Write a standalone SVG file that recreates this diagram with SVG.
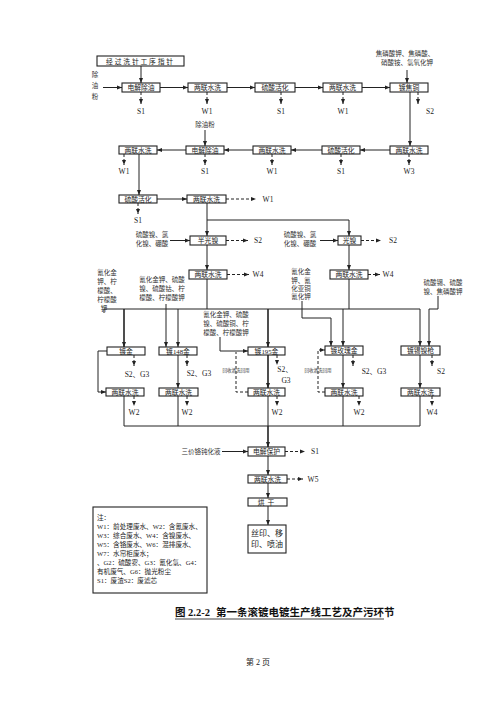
<svg xmlns="http://www.w3.org/2000/svg" width="500" height="707" viewBox="0 0 500 707">
<defs>
<marker id="a" viewBox="0 0 10 10" refX="10" refY="5" markerWidth="5" markerHeight="5" orient="auto" markerUnits="userSpaceOnUse"><path d="M0,1 L10,5 L0,9 z" fill="#222"/></marker>
</defs>
<style>
.b{fill:#fff;stroke:#222;stroke-width:1.1}
.t{font-family:"Liberation Serif","Noto Sans CJK SC",serif;font-size:6.8px;fill:#222;text-anchor:middle}
.c{font-family:"Liberation Serif","Noto Sans CJK SC",serif;font-size:6.5px;fill:#333;text-anchor:middle}
.s{font-family:"Liberation Serif","Noto Sans CJK SC",serif;font-size:7.5px;fill:#222;text-anchor:middle}
.g{font-family:"Liberation Serif","Noto Sans CJK SC",serif;font-size:6.6px;fill:#222}
.l{fill:none;stroke:#222;stroke-width:1}
.k{fill:none;stroke:#222;stroke-width:1.6}
.d{fill:none;stroke:#222;stroke-width:1;stroke-dasharray:3,2}
</style>
<rect width="500" height="707" fill="#fff"/>

<g id="connectors">
<path class="l" d="M141 66V83" marker-end="url(#a)"/>
<path class="l" d="M103 87.5H122" marker-end="url(#a)"/>
<path class="l" d="M160 87.5H188" marker-end="url(#a)"/>
<path class="l" d="M227 87.5H255" marker-end="url(#a)"/>
<path class="l" d="M295 87.5H323" marker-end="url(#a)"/>
<path class="l" d="M362 87.5H390" marker-end="url(#a)"/>
<path class="l" d="M407 70V83" marker-end="url(#a)"/>
<path class="d" d="M141 92V104" marker-end="url(#a)"/>
<path class="d" d="M207 92V104" marker-end="url(#a)"/>
<path class="d" d="M281 92V104" marker-end="url(#a)"/>
<path class="d" d="M343 92V104" marker-end="url(#a)"/>
<path class="d" d="M418 92V104" marker-end="url(#a)"/>
<path class="l" d="M410 92V146" marker-end="url(#a)"/>

<path class="l" d="M390 150H360" marker-end="url(#a)"/>
<path class="l" d="M322 150H291" marker-end="url(#a)"/>
<path class="l" d="M253 150H224" marker-end="url(#a)"/>
<path class="l" d="M186 150H157" marker-end="url(#a)"/>
<path class="l" d="M205 130V146" marker-end="url(#a)"/>
<path class="d" d="M124 154V165" marker-end="url(#a)"/>
<path class="d" d="M205 154V165" marker-end="url(#a)"/>
<path class="d" d="M272 154V165" marker-end="url(#a)"/>
<path class="d" d="M341 154V165" marker-end="url(#a)"/>
<path class="d" d="M409 154V165" marker-end="url(#a)"/>
<path class="l" d="M139 154V195" marker-end="url(#a)"/>

<path class="l" d="M157 199H187" marker-end="url(#a)"/>
<path class="d" d="M226 199H256" marker-end="url(#a)"/>
<path class="d" d="M138 203V214" marker-end="url(#a)"/>
<path class="l" d="M207 203V236" marker-end="url(#a)"/>
<path class="l" d="M207 220H349V236" marker-end="url(#a)"/>

<path class="l" d="M170 240.5H190" marker-end="url(#a)"/>
<path class="d" d="M226 240.5H248" marker-end="url(#a)"/>
<path class="l" d="M320 240.5H338" marker-end="url(#a)"/>
<path class="d" d="M361 240.5H381" marker-end="url(#a)"/>
<path class="l" d="M207 245V270" marker-end="url(#a)"/>
<path class="l" d="M349 245V270" marker-end="url(#a)"/>
<path class="d" d="M227 274.5H249" marker-end="url(#a)"/>
<path class="d" d="M368 274.5H380" marker-end="url(#a)"/>
<path class="l" d="M207 279V309"/>
<path class="l" d="M349 279V309"/>

<path class="l" d="M104 309H420V346" marker-end="url(#a)"/>
<path class="k" d="M124 309V347" marker-end="url(#a)"/>
<path class="l" d="M178 309V347" marker-end="url(#a)"/>
<path class="k" d="M268 309V347" marker-end="url(#a)"/>
<path class="l" d="M343 309V346" marker-end="url(#a)"/>
<path class="l" d="M104 313V309"/>
<path class="l" d="M166 304V347" marker-end="url(#a)"/>
<path class="l" d="M220 337V351H248" marker-end="url(#a)"/>
<path class="l" d="M302 301V318H331V346" marker-end="url(#a)"/>
<path class="l" d="M438 296V309H429V346" marker-end="url(#a)"/>

<path class="l" d="M107 351H98V392H106" marker-end="url(#a)"/>
<path class="l" d="M178 355V388" marker-end="url(#a)"/>
<path class="k" d="M268 355V388" marker-end="url(#a)"/>
<path class="l" d="M343 355V388" marker-end="url(#a)"/>
<path class="l" d="M420 355V388" marker-end="url(#a)"/>
<path class="d" d="M134 355V366" marker-end="url(#a)"/>
<path class="d" d="M187 355V366" marker-end="url(#a)"/>
<path class="d" d="M277 355V365" marker-end="url(#a)"/>
<path class="d" d="M353 355V366" marker-end="url(#a)"/>
<path class="d" d="M432 355V366" marker-end="url(#a)"/>
<path class="d" d="M248 392H236V352"/>
<path class="d" d="M325 392H318V350H325" marker-end="url(#a)"/>

<path class="d" d="M134 396V406" marker-end="url(#a)"/>
<path class="d" d="M187 396V406" marker-end="url(#a)"/>
<path class="d" d="M277 396V406" marker-end="url(#a)"/>
<path class="d" d="M359 396V406" marker-end="url(#a)"/>
<path class="d" d="M432 396V406" marker-end="url(#a)"/>
<path class="l" d="M124 396V426H420V396"/>
<path class="l" d="M178 396V426"/>
<path class="l" d="M268 396V426"/>
<path class="l" d="M343 396V426"/>
<path class="k" d="M268 426V447" marker-end="url(#a)"/>

<path class="l" d="M222 451.5H248" marker-end="url(#a)"/>
<path class="d" d="M285 451.5H305" marker-end="url(#a)"/>
<path class="l" d="M268 456V475" marker-end="url(#a)"/>
<path class="d" d="M287 479H303" marker-end="url(#a)"/>
<path class="l" d="M268 483V498" marker-end="url(#a)"/>
<path class="l" d="M268 506V525" marker-end="url(#a)"/>
</g>

<g id="labels">
<text class="c" x="95" y="77">除</text><text class="c" x="95" y="88">油</text><text class="c" x="95" y="99">粉</text>
<text class="c" x="405" y="56">焦磷酸钾、焦磷酸、</text>
<text class="c" x="407" y="65">硝酸铵、氢氧化钾</text>
<text class="s" x="141" y="114">S1</text><text class="s" x="207" y="114">W1</text><text class="s" x="281" y="114">S1</text><text class="s" x="343" y="114">W1</text><text class="s" x="430" y="114">S2</text>
<text class="c" x="205" y="127">除油粉</text>
<text class="s" x="124" y="174">W1</text><text class="s" x="205" y="174">S1</text><text class="s" x="272" y="174">W1</text><text class="s" x="341" y="174">S1</text><text class="s" x="409" y="174">W3</text>
<text class="s" x="268" y="202">W1</text>
<text class="s" x="138" y="223">S1</text>
<text class="c" x="152" y="237">硫酸镍、氯</text><text class="c" x="152" y="246">化镍、硼酸</text>
<text class="s" x="258" y="243">S2</text>
<text class="c" x="300" y="237">硫酸镍、氯</text><text class="c" x="300" y="246">化镍、硼酸</text>
<text class="s" x="393" y="243">S2</text>
<text class="s" x="258" y="277">W4</text><text class="s" x="388" y="277">W4</text>
<text class="c" x="107" y="275">氰化金</text><text class="c" x="107" y="284">钾、柠</text><text class="c" x="107" y="293">檬酸、</text><text class="c" x="107" y="302">柠檬酸</text><text class="c" x="104" y="311">钾</text>
<text class="c" x="162" y="282">氰化金钾、硫酸</text><text class="c" x="162" y="291">镍、硫酸钴、柠</text><text class="c" x="162" y="300">檬酸、柠檬酸钾</text>
<text class="c" x="226" y="317">氰化金钾、硫酸</text><text class="c" x="226" y="326">镍、硫酸铜、柠</text><text class="c" x="226" y="335">檬酸、柠檬酸钾</text>
<text class="c" x="301" y="274">氰化金</text><text class="c" x="301" y="283">钾、氰</text><text class="c" x="301" y="291">化亚铜</text><text class="c" x="301" y="299">氰化钾</text>
<text class="c" x="443" y="285">硫酸锡、硫酸</text><text class="c" x="443" y="294">镍、焦磷酸钾</text>
<text class="s" x="137" y="377">S2、G3</text>
<text class="s" x="199" y="376">S2、G3</text>
<text class="s" x="285" y="372">S2、</text><text class="s" x="286" y="383">G3</text>
<text class="s" x="374" y="374">S2、G3</text>
<text class="s" x="441" y="374">S2</text>
<text class="c" x="236" y="372" style="font-size:4.5px">回收清洗回用</text>
<text class="c" x="318" y="372" style="font-size:4.5px">回收清洗回用</text>
<text class="s" x="134" y="415">W2</text><text class="s" x="187" y="415">W2</text><text class="s" x="277" y="415">W2</text><text class="s" x="359" y="415">W2</text><text class="s" x="432" y="415">W4</text>
<text class="c" x="201" y="454">三价铬钝化液</text>
<text class="s" x="315" y="454">S1</text>
<text class="s" x="313" y="482">W5</text>
</g>

<g id="n-top"><rect class="b" x="97" y="56" width="87" height="10"/><text class="t" x="140.5" y="63.5" letter-spacing="1.8">经过洗针工序指针</text></g>
<g id="n-a1"><rect class="b" x="122" y="83" width="38" height="9"/><text class="t" x="141" y="90">电解除油</text></g>
<g id="n-a2"><rect class="b" x="188" y="83" width="39" height="9"/><text class="t" x="207.5" y="90">两联水洗</text></g>
<g id="n-a3"><rect class="b" x="255" y="83" width="40" height="9"/><text class="t" x="275" y="90">硫酸活化</text></g>
<g id="n-a4"><rect class="b" x="323" y="83" width="39" height="9"/><text class="t" x="342.5" y="90">两联水洗</text></g>
<g id="n-a5"><rect class="b" x="390" y="83" width="38" height="9"/><text class="t" x="409" y="90">镀焦铜</text></g>

<g id="n-b1"><rect class="b" x="119" y="146" width="38" height="8"/><text class="t" x="138" y="152.5">两联水洗</text></g>
<g id="n-b2"><rect class="b" x="186" y="146" width="38" height="8"/><text class="t" x="205" y="152.5">电解除油</text></g>
<g id="n-b3"><rect class="b" x="253" y="146" width="38" height="8"/><text class="t" x="272" y="152.5">两联水洗</text></g>
<g id="n-b4"><rect class="b" x="322" y="146" width="38" height="8"/><text class="t" x="341" y="152.5">硫酸活化</text></g>
<g id="n-b5"><rect class="b" x="390" y="146" width="38" height="8"/><text class="t" x="409" y="152.5">两联水洗</text></g>

<g id="n-c1"><rect class="b" x="119" y="195" width="38" height="8"/><text class="t" x="138" y="201.5">硫酸活化</text></g>
<g id="n-c2"><rect class="b" x="187" y="195" width="39" height="8"/><text class="t" x="206.5" y="201.5">两联水洗</text></g>

<g id="n-d1"><rect class="b" x="190" y="236" width="36" height="9"/><text class="t" x="208" y="243">半光镍</text></g>
<g id="n-d2"><rect class="b" x="338" y="236" width="23" height="9"/><text class="t" x="349.5" y="243">光镍</text></g>
<g id="n-e1"><rect class="b" x="189" y="270" width="38" height="9"/><text class="t" x="208" y="277">两联水洗</text></g>
<g id="n-e2"><rect class="b" x="330" y="270" width="38" height="9"/><text class="t" x="349" y="277">两联水洗</text></g>

<g id="n-f1"><rect class="b" x="107" y="347" width="38" height="8"/><text class="t" x="126" y="353.5">镀金</text></g>
<g id="n-f2"><rect class="b" x="159" y="347" width="38" height="8"/><text class="t" x="178" y="353.5">镀148金</text></g>
<g id="n-f3"><rect class="b" x="248" y="347" width="37" height="8"/><text class="t" x="266.5" y="353.5">镀195金</text></g>
<g id="n-f4"><rect class="b" x="325" y="346" width="38" height="9"/><text class="t" x="344" y="353">镀玫瑰金</text></g>
<g id="n-f5"><rect class="b" x="401" y="346" width="39" height="9"/><text class="t" x="420.5" y="353">镀锡镍枪</text></g>

<g id="n-g1"><rect class="b" x="106" y="388" width="38" height="8"/><text class="t" x="125" y="394.5">两联水洗</text></g>
<g id="n-g2"><rect class="b" x="159" y="388" width="39" height="8"/><text class="t" x="178.5" y="394.5">两联水洗</text></g>
<g id="n-g3"><rect class="b" x="248" y="388" width="37" height="8"/><text class="t" x="266.5" y="394.5">两联水洗</text></g>
<g id="n-g4"><rect class="b" x="325" y="388" width="38" height="8"/><text class="t" x="344" y="394.5">两联水洗</text></g>
<g id="n-g5"><rect class="b" x="401" y="388" width="39" height="8"/><text class="t" x="420.5" y="394.5">两联水洗</text></g>

<g id="n-h1"><rect class="b" x="248" y="447" width="37" height="9"/><text class="t" x="266.5" y="454">电解保护</text></g>
<g id="n-h2"><rect class="b" x="248" y="475" width="39" height="8"/><text class="t" x="267.5" y="481.5">两联水洗</text></g>
<g id="n-h3"><rect class="b" x="248" y="498" width="39" height="8"/><text class="t" x="267.5" y="504.5" letter-spacing="3">烘干</text></g>
<g id="n-h4"><rect class="b" x="248" y="525" width="38" height="28"/><text class="t" x="267" y="536" style="font-size:8px">丝印、移</text><text class="t" x="267" y="547" style="font-size:8px">印、喷油</text></g>

<g id="legend">
<rect class="b" x="93" y="507" width="114" height="86"/>
<text class="g" x="97" y="520">注：</text>
<text class="g" x="97" y="529">W1：前处理废水、W2：含氰废水、</text>
<text class="g" x="97" y="538">W3：综合废水、W4：含镍废水、</text>
<text class="g" x="97" y="547">W5：含铬废水、W6：混排废水、</text>
<text class="g" x="97" y="556">W7：水帘柜废水；</text>
<text class="g" x="97" y="565">、G2：硫酸雾、G3：氰化氢、G4：</text>
<text class="g" x="97" y="574">有机废气、G6：抛光粉尘</text>
<text class="g" x="97" y="583">S1：废渣S2：废滤芯</text>
</g>

<g id="caption">
<text x="175" y="616" style="font-family:'Liberation Serif','Noto Sans CJK SC',serif;font-size:10.5px;font-weight:bold;fill:#111">图 2.2-2</text>
<text x="216" y="616" style="font-family:'Liberation Serif','Noto Sans CJK SC',serif;font-size:10.5px;font-weight:bold;fill:#111">第一条滚镀电镀生产线工艺及产污环节</text>
<line x1="175" y1="619" x2="384" y2="619" stroke="#111" stroke-width="0.8"/>
<text x="258" y="665" style="font-family:'Liberation Serif','Noto Sans CJK SC',serif;font-size:8px;fill:#222;text-anchor:middle">第 2 页</text>
</g>
</svg>
